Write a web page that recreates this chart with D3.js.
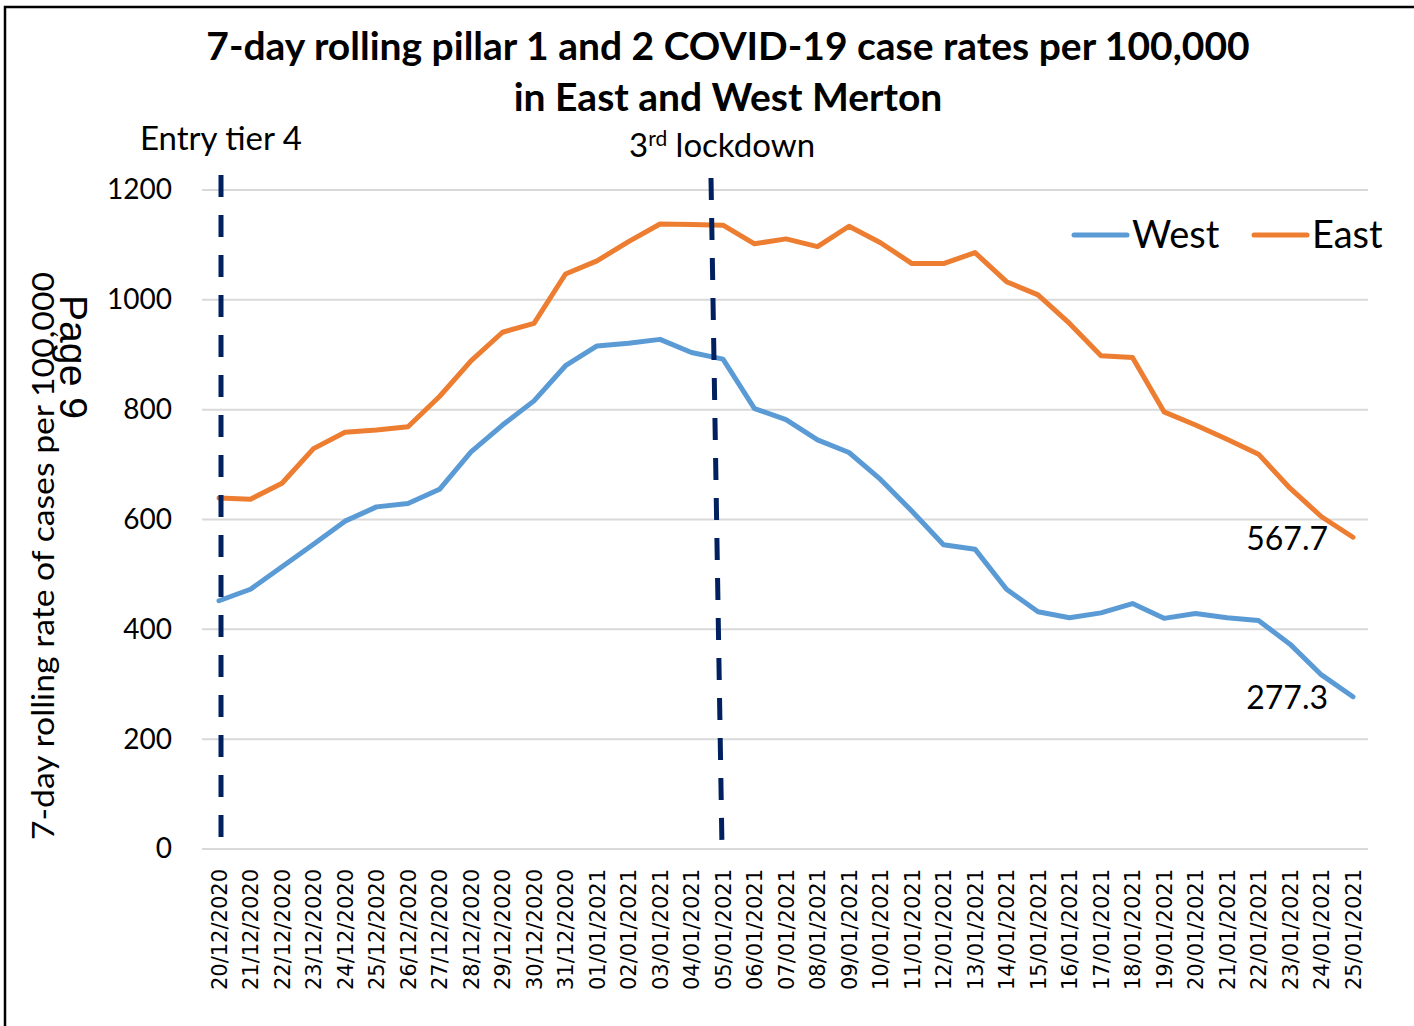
<!DOCTYPE html>
<html>
<head>
<meta charset="utf-8">
<script src="https://cdn.jsdelivr.net/npm/d3@7"></script>
<style>
  body { margin: 0; background: #fff; }
  svg { display: block; }
</style>
</head>
<body>
<div id="chart"></div>
<script>
// Dates (x categories)
const dates = [
  "20/12/2020", "21/12/2020", "22/12/2020", "23/12/2020", "24/12/2020", "25/12/2020",
  "26/12/2020", "27/12/2020", "28/12/2020", "29/12/2020", "30/12/2020", "31/12/2020",
  "01/01/2021", "02/01/2021", "03/01/2021", "04/01/2021", "05/01/2021", "06/01/2021",
  "07/01/2021", "08/01/2021", "09/01/2021", "10/01/2021", "11/01/2021", "12/01/2021",
  "13/01/2021", "14/01/2021", "15/01/2021", "16/01/2021", "17/01/2021", "18/01/2021",
  "19/01/2021", "20/01/2021", "21/01/2021", "22/01/2021", "23/01/2021", "24/01/2021",
  "25/01/2021"
];

// 7-day rolling rates per 100,000
const west = [
  452, 473, 514, 555, 597, 623, 629, 655, 723, 772, 816, 880,
  916, 921, 928, 904, 892, 802, 782, 745, 722, 673, 615, 554,
  546, 473, 432, 421, 430, 447, 420, 429, 421, 416, 373, 317,
  277.3
];
const east = [
  639, 637, 666, 729, 759, 763, 769, 824, 889, 941, 957, 1047,
  1071, 1106, 1138, 1137, 1136, 1102, 1111, 1097, 1134, 1104, 1066, 1066,
  1086, 1033, 1009, 957, 898, 895, 796, 772, 746, 719, 657, 605,
  567.7
];

const yTicks = [0, 200, 400, 600, 800, 1000, 1200];
const seriesNames = ["West", "East"];
const events = [
  { date: "20/12/2020", label: "Entry tier 4" },
  { date: "05/01/2021", label: "3rd lockdown" }
];

const W = 1414, H = 1026;
const blue = "#5B9BD5", orange = "#ED7D31", navy = "#002060";
const font = "Lato, 'Open Sans', sans-serif";

const svg = d3.select("#chart").append("svg")
  .attr("width", W).attr("height", H);

// outer frame (top and left edges only, as in the source)
svg.append("path")
  .attr("d", `M5,1026 V7 H1414`)
  .attr("fill", "none").attr("stroke", "#000").attr("stroke-width", 2.5);

const x = d3.scalePoint().domain(dates).range([219, 1353]);
const y = d3.scaleLinear().domain([0, 1200]).range([849, 190]);

// gridlines
svg.append("g").selectAll("line")
  .data(yTicks).enter().append("line")
  .attr("x1", 202).attr("x2", 1368)
  .attr("y1", d => y(d)).attr("y2", d => y(d))
  .attr("stroke", "#D9D9D9").attr("stroke-width", 2);

// y tick labels
const yAxis = svg.append("g")
  .attr("transform", "translate(172,0)")
  .call(d3.axisLeft(y).tickValues(yTicks).tickFormat(d3.format("d")).tickSize(0).tickPadding(0));
yAxis.select(".domain").remove();
yAxis.selectAll("text")
  .attr("font-family", font)
  .attr("font-size", 28).attr("fill", "#000");

// x tick labels, rotated
const xAxis = svg.append("g")
  .attr("transform", "translate(0,849)")
  .call(d3.axisBottom(x).tickSize(0).tickPadding(0));
xAxis.select(".domain").remove();
xAxis.selectAll("text")
  .attr("font-family", "'DejaVu Sans', sans-serif")
  .attr("font-size", 21).attr("fill", "#000")
  .attr("text-anchor", "end")
  .attr("transform", "translate(0,20) rotate(-90)")
  .attr("dx", 0).attr("dy", "0.35em")
  .attr("y", 0).attr("x", 0);

// series lines
const line = d3.line().x((d, i) => x(dates[i])).y(d => y(d));
svg.append("path").datum(west)
  .attr("d", line).attr("fill", "none")
  .attr("stroke", blue).attr("stroke-width", 5)
  .attr("stroke-linejoin", "round").attr("stroke-linecap", "round");
svg.append("path").datum(east)
  .attr("d", line).attr("fill", "none")
  .attr("stroke", orange).attr("stroke-width", 5)
  .attr("stroke-linejoin", "round").attr("stroke-linecap", "round");

// event dashed lines (second one leans slightly, as drawn in the source)
svg.append("line")
  .attr("x1", x(events[0].date) + 2).attr("y1", 175)
  .attr("x2", x(events[0].date) + 2).attr("y2", 845)
  .attr("stroke", navy).attr("stroke-width", 5)
  .attr("stroke-dasharray", "22,18");
svg.append("line")
  .attr("x1", x(events[1].date) - 12).attr("y1", 178)
  .attr("x2", x(events[1].date) - 1).attr("y2", 848)
  .attr("stroke", navy).attr("stroke-width", 5)
  .attr("stroke-dasharray", "22,18");

// event labels
svg.append("text")
  .attr("x", 140).attr("y", 150)
  .attr("font-family", font).attr("font-size", 33)
  .text(events[0].label);
const lk = svg.append("text")
  .attr("x", 629).attr("y", 157)
  .attr("font-family", font).attr("font-size", 33);
lk.append("tspan").text("3");
lk.append("tspan").attr("font-size", 21).attr("dy", -11).text("rd");
lk.append("tspan").attr("dy", 11).text(" lockdown");

// title
const title = svg.append("text")
  .attr("text-anchor", "middle")
  .attr("font-family", font).attr("font-weight", "bold")
  .attr("font-size", 39).attr("fill", "#000");
title.append("tspan").attr("x", 728).attr("y", 60)
  .text("7-day rolling pillar 1 and 2 COVID-19 case rates per 100,000");
title.append("tspan").attr("x", 728).attr("y", 111)
  .text("in East and West Merton");

// y axis title
svg.append("text")
  .attr("transform", "translate(54,556) rotate(-90)")
  .attr("text-anchor", "middle")
  .attr("font-family", font).attr("font-size", 31)
  .attr("textLength", 568).attr("lengthAdjust", "spacingAndGlyphs")
  .text("7-day rolling rate of cases per 100,000");

// stray page marker overlapping the axis title
svg.append("text")
  .attr("transform", "translate(60,357) rotate(90)")
  .attr("text-anchor", "middle")
  .attr("font-family", "'Liberation Sans', sans-serif").attr("font-size", 39)
  .attr("textLength", 124).attr("lengthAdjust", "spacingAndGlyphs")
  .text("Page 9");

// legend
const legend = svg.append("g");
const legendX = [1074, 1254];
seriesNames.forEach((name, i) => {
  legend.append("line")
    .attr("x1", legendX[i]).attr("x2", legendX[i] + 53)
    .attr("y1", 235).attr("y2", 235)
    .attr("stroke", i === 0 ? blue : orange).attr("stroke-width", 5)
    .attr("stroke-linecap", "round");
  legend.append("text")
    .attr("x", legendX[i] + 58).attr("y", 248)
    .attr("font-family", font).attr("font-size", 38)
    .text(name);
});

// end value labels
const last = dates.length - 1;
svg.append("text")
  .attr("x", x(dates[last]) - 25).attr("y", 550)
  .attr("text-anchor", "end")
  .attr("font-family", font).attr("font-size", 32)
  .text(east[last].toFixed(1));
svg.append("text")
  .attr("x", x(dates[last]) - 25).attr("y", 709)
  .attr("text-anchor", "end")
  .attr("font-family", font).attr("font-size", 32)
  .text(west[last].toFixed(1));
</script>
</body>
</html>
